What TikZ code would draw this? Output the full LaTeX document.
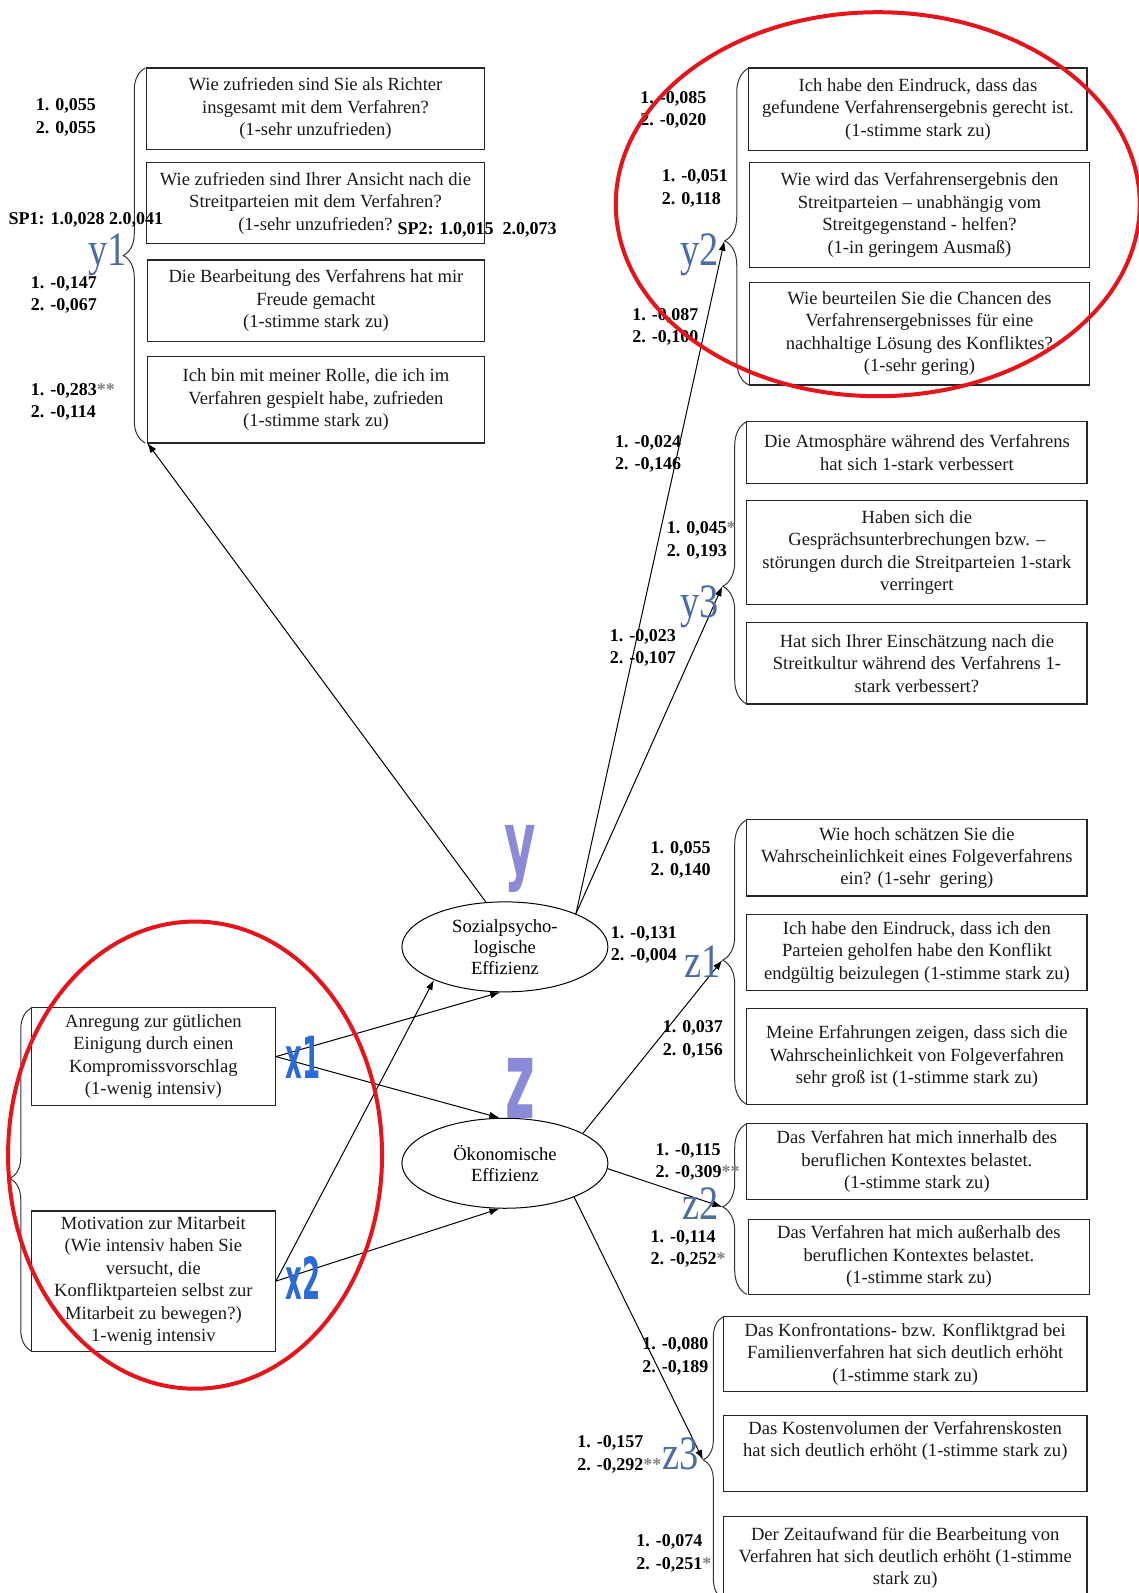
\documentclass[tikz,border=0pt]{standalone}
\usepackage{fontspec}
\setmainfont{Liberation Serif}
\newfontfamily\lsans{DejaVu Sans}
\usetikzlibrary{arrows.meta,decorations.pathreplacing,shapes.geometric}
\definecolor{slate}{HTML}{4A6DA3}
\definecolor{lav}{HTML}{8A8AD8}
\definecolor{xblue}{HTML}{2B6CD4}
\definecolor{redring}{HTML}{E8141B}
\begin{document}
\begin{tikzpicture}[x=0.508pt,y=-0.508pt,
  box/.style={draw=black!85, line width=0.6pt, inner sep=0pt, align=center,
              font=\fontsize{9.3}{11.2}\selectfont, text=black!90},
  pbox/.style n args={4}{minimum width={(#3-#1)*0.508pt}, minimum height={(#4-#2)*0.508pt},
              at={({(#1+#3)/2},{(#2+#4)/2})}},
  lab/.style={inner sep=0pt, anchor=west, align=left,
              font=\fontsize{9}{11.2}\selectfont\bfseries},
  latent/.style={ellipse, draw, line width=0.5pt, minimum width=103pt, minimum height=45pt,
              inner sep=0pt, align=center, font=\fontsize{9.3}{10.4}\selectfont},
  arr/.style={line width=0.5pt, -{Latex[length=5pt,width=3.5pt]}},
  grp/.style={decorate, line width=0.5pt, draw=black!80},
  serifl/.style={text=slate, font=\fontsize{24}{24}\selectfont, inner sep=0pt},
  bigl/.style={text=lav, font=\lsans\fontsize{44}{44}\selectfont\bfseries, inner sep=0pt},
  xl/.style={text=xblue, font=\lsans\fontsize{29}{29}\selectfont\bfseries, inner sep=0pt},
  ring/.style={draw=redring, line width=2pt}
]
\useasboundingbox (0,0) rectangle (1121,1568);
\clip (0,0) rectangle (1121,1568);

% ---------- y1 group
\node[box, pbox={144}{67}{477}{147}] (A1) {Wie zufrieden sind Sie als Richter\\insgesamt mit dem Verfahren?\\(1-sehr unzufrieden)};
\node[box, pbox={144}{160}{477}{240}] (A2) {Wie zufrieden sind Ihrer Ansicht nach die\\Streitparteien mit dem Verfahren?\\(1-sehr unzufrieden?};
\node[box, pbox={145}{256}{477}{336}] (A3) {Die Bearbeitung des Verfahrens hat mir\\Freude gemacht\\(1-stimme stark zu)};
\node[box, pbox={145}{351}{477}{436}] (A4) {Ich bin mit meiner Rolle, die ich im\\Verfahren gespielt habe, zufrieden\\(1-stimme stark zu)};
\draw[grp, decoration={brace, amplitude=11pt, aspect=0.5}] (143,436) -- (143,67);
\coordinate (y1end) at (145,436);

% ---------- y2 group
\node[box, pbox={737}{67}{1070}{148}] (B1) {Ich habe den Eindruck, dass das\\gefundene Verfahrensergebnis gerecht ist.\\(1-stimme stark zu)};
\node[box, pbox={738}{160}{1072}{263}] (B2) {Wie wird das Verfahrensergebnis den\\Streitparteien -- unabhängig vom\\Streitgegenstand - helfen?\\(1-in geringem Ausmaß)};
\node[box, pbox={738}{278}{1072}{379}] (B3) {Wie beurteilen Sie die Chancen des\\Verfahrensergebnisses für eine\\nachhaltige Lösung des Konfliktes?\\(1-sehr gering)};
\draw[grp, decoration={brace, amplitude=12pt, aspect=0.455}] (737,379) -- (737,67);
\coordinate (y2t) at (713,237);

% ---------- y3 group
\node[box, pbox={735}{415}{1070}{476}] (C1) {Die Atmosphäre während des Verfahrens\\hat sich 1-stark verbessert};
\node[box, pbox={735}{493}{1070}{595}] (C2) {Haben sich die\\Gesprächsunterbrechungen bzw. --\\störungen durch die Streitparteien 1-stark\\verringert};
\node[box, pbox={735}{613}{1070}{693}] (C3) {Hat sich Ihrer Einschätzung nach die\\Streitkultur während des Verfahrens 1-\\stark verbessert?};
\draw[grp, decoration={brace, amplitude=12pt, aspect=0.417}] (735,693) -- (735,415);
\coordinate (y3t) at (711,577);

% ---------- z1 group
\node[box, pbox={735}{807}{1070}{882}] (D1) {Wie hoch schätzen Sie die\\Wahrscheinlichkeit eines Folgeverfahrens\\ein? (1-sehr\ \ gering)};
\node[box, pbox={735}{900}{1070}{975}] (D2) {Ich habe den Eindruck, dass ich den\\Parteien geholfen habe den Konflikt\\endgültig beizulegen (1-stimme stark zu)};
\node[box, pbox={735}{993}{1070}{1087}] (D3) {Meine Erfahrungen zeigen, dass sich die\\Wahrscheinlichkeit von Folgeverfahren\\sehr groß ist (1-stimme stark zu)};
\draw[grp, decoration={brace, amplitude=12pt, aspect=0.507}] (735,1087) -- (735,807);
\coordinate (z1t) at (711,945);

% ---------- z2 group
\node[box, pbox={735}{1106}{1070}{1181}] (E1) {Das Verfahren hat mich innerhalb des\\beruflichen Kontextes belastet.\\(1-stimme stark zu)};
\node[box, pbox={737}{1200}{1072}{1274}] (E2) {Das Verfahren hat mich außerhalb des\\beruflichen Kontextes belastet.\\(1-stimme stark zu)};
\draw[grp, decoration={brace, amplitude=12pt, aspect=0.512}] (735,1274) -- (735,1106);
\coordinate (z2t) at (711,1188);

% ---------- z3 group
\node[box, pbox={712}{1296}{1070}{1370}] (F1) {Das Konfrontations- bzw. Konfliktgrad bei\\Familienverfahren hat sich deutlich erhöht\\(1-stimme stark zu)};
\node[box, pbox={712}{1393}{1070}{1468}] (F2) {Das Kostenvolumen der Verfahrenskosten\\hat sich deutlich erhöht (1-stimme stark zu)\\\strut};
\node[box, pbox={712}{1493}{1070}{1574}] (F3) {Der Zeitaufwand für die Bearbeitung von\\Verfahren hat sich deutlich erhöht (1-stimme\\stark zu)};
\draw[grp, decoration={brace, amplitude=10pt, aspect=0.493}] (712,1574) -- (712,1296);
\coordinate (z3t) at (692,1437);

% ---------- x group
\node[box, pbox={31}{992}{271}{1088}] (X1) {Anregung zur gütlichen\\Einigung durch einen\\Kompromissvorschlag\\(1-wenig intensiv)};
\node[box, pbox={31}{1192}{271}{1330}] (X2) {Motivation zur Mitarbeit\\(Wie intensiv haben Sie\\versucht, die\\Konfliktparteien selbst zur\\Mitarbeit zu bewegen?)\\1-wenig intensiv};
\draw[grp, decoration={brace, amplitude=10.7pt, aspect=0.503}] (31,1330) -- (31,992);

% ---------- latent variables
\node[latent] (soz) at (497,932) {Sozialpsycho-\\logische\\Effizienz};
\node[latent] (oek) at (497,1145) {Ökonomische\\Effizienz};

% ---------- connectors
\draw[arr] (soz.113) -- (y1end);
\draw[arr] (soz.25) -- (y2t);
\draw[arr] (soz.25) -- (y3t);
\draw[arr] (oek.21) -- (z1t);
\draw[arr] (oek.-3) -- (z2t);
\draw[arr] (oek.-26) -- (z3t);
\draw[arr] (X1.east) -- (soz.264);
\draw[arr] (X1.east) -- (oek.97);
\draw[arr] (X2.east) -- (soz.205);
\draw[arr] (X2.east) -- (oek.263);

% ---------- coefficient labels
\node[lab] (n1) at (35,115.5) {1. 0,055\\2. 0,055};
\node[lab] (sp1) at (8,216) {SP1: 1.0,028 2.0,041};
\node[lab] (sp2) at (391,226) {SP2: 1.0,015\ \ 2.0,073};
\node[lab] (n2) at (30,290) {1. -0,147\\2. -0,067};
\node[lab] (n3) at (30,395.5) {1. -0,283\textcolor{gray}{**}\\2. -0,114};
\node[lab] (n4) at (630,108) {1. -0,085\\2. -0,020};
\node[lab] (n5) at (651,185.5) {1. -0,051\\2. 0,118};
\node[lab] (n6) at (622,322) {1. -0,087\\2. -0,100};
\node[lab] (n7) at (605,447) {1. -0,024\\2. -0,146};
\node[lab] (n8) at (656,532) {1. 0,045\textcolor{gray}{*}\\2. 0,193};
\node[lab] (n9) at (600,638) {1. -0,023\\2. -0,107};
\node[lab] (n10) at (640,846.5) {1. 0,055\\2. 0,140};
\node[lab] (n11) at (601,930) {1. -0,131\\2. -0,004};
\node[lab] (n12) at (652,1023) {1. 0,037\\2. 0,156};
\node[lab] (n13) at (645,1143.5) {1. -0,115\\2. -0,309\textcolor{gray}{**}};
\node[lab] (n14) at (640,1229.5) {1. -0,114\\2. -0,252\textcolor{gray}{*}};
\node[lab] (n15) at (632,1335) {1. -0,080\\2. -0,189};
\node[lab] (n16) at (568,1431.5) {1. -0,157\\2. -0,292\textcolor{gray}{**}};
\node[lab] (n17) at (626,1529) {1. -0,074\\2. -0,251\textcolor{gray}{*}};

% ---------- letters
\node[serifl] (ly1) at (106,251) {\scalebox{0.8}[1]{y1}};
\node[serifl] (ly2) at (689,251) {\scalebox{0.8}[1]{y2}};
\node[serifl] (ly3) at (689,597) {\scalebox{0.8}[1]{y3}};
\node[serifl] (lz1) at (692,947) {\scalebox{0.8}[1]{z1}};
\node[serifl] (lz2) at (690,1185) {\scalebox{0.8}[1]{z2}};
\node[serifl] (lz3) at (670,1431) {\scalebox{0.8}[1]{z3}};
\node[bigl] (ly) at (512,845) {\scalebox{0.55}[1]{y}};
\node[bigl] (lz) at (512,1071) {\scalebox{0.58}[1.25]{z}};
\node[xl] (lx1) at (298,1041) {\scalebox{0.45}[1]{x1}};
\node[xl] (lx2) at (298,1258) {\scalebox{0.45}[1]{x2}};

% ---------- red rings
\draw[ring] (864,201) ellipse [x radius=131pt, y radius=96pt];
\draw[ring] (192,1137) ellipse [x radius=93.5pt, y radius=116.8pt];
\end{tikzpicture}
\end{document}
